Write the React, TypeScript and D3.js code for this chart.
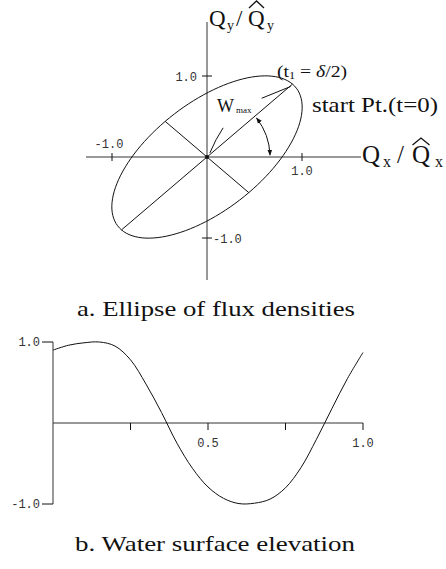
import React from 'react';
import * as d3 from 'd3';

// a. ellipse of flux densities
const majorAxisEnd = [0.9, 0.9];
const minorAxisEnd = [0.44, -0.44];
const ellipseTicks = [-1, 1];
const ellipseTickLabels = ['-1.0', '1.0'];

// b. water surface elevation over one period
const timeValues = [0, 0.05, 0.1, 0.15, 0.2, 0.25, 0.3, 0.35, 0.4, 0.45, 0.5,
  0.55, 0.6, 0.65, 0.7, 0.75, 0.8, 0.85, 0.9, 0.95, 1.0];
const elevationValues = [0.9, 0.96, 0.99, 1.0, 0.95, 0.78, 0.48, 0.13, -0.25, -0.56, -0.79,
  -0.93, -0.995, -0.99, -0.94, -0.8, -0.55, -0.2, 0.18, 0.55, 0.87];
const timeTicks = [0.25, 0.5, 0.75, 1.0];
const timeTickLabels = ['', '0.5', '', '1.0'];
const elevationTicks = [-1, 1];
const elevationTickLabels = ['-1.0', '1.0'];

const serif = '"Liberation Serif", "DejaVu Serif", serif';
const mono = '"Liberation Mono", "DejaVu Sans Mono", monospace';

export default function App() {
  const W = 446;
  const H = 569;

  // top panel scales
  const x = d3.scaleLinear().domain([-1, 1]).range([112, 302]);
  const y = d3.scaleLinear().domain([-1, 1]).range([238, 76]);
  const ox = x(0);
  const oy = y(0);

  const ellipsePts: [number, number][] = d3.range(0, 361, 3).map((deg) => {
    const s = (deg * Math.PI) / 180;
    return [
      majorAxisEnd[0] * Math.cos(s) + minorAxisEnd[0] * Math.sin(s),
      majorAxisEnd[1] * Math.cos(s) + minorAxisEnd[1] * Math.sin(s),
    ];
  });
  const line = d3.line<[number, number]>().x((d) => x(d[0])).y((d) => y(d[1]));
  const ellipsePath = line.curve(d3.curveLinearClosed)(ellipsePts) || '';

  // angle arc from major axis down to x axis
  const majorAngle = Math.atan2(oy - y(majorAxisEnd[1]), x(majorAxisEnd[0]) - ox);
  const r = 63;
  const a0 = majorAngle - 0.04;
  const a1 = 0.03;
  const arcPath = `M${ox + r * Math.cos(a0)},${oy - r * Math.sin(a0)} A${r},${r} 0 0 1 ${ox + r * Math.cos(a1)},${oy - r * Math.sin(a1)}`;

  // bottom panel scales
  const xb = d3.scaleLinear().domain([0, 1]).range([53, 363]);
  const yb = d3.scaleLinear().domain([-1, 1]).range([504, 342]);
  const curve = d3.line<number>()
    .x((_, i) => xb(timeValues[i]))
    .y((d) => yb(d))
    .curve(d3.curveCatmullRom)(elevationValues) || '';

  const stroke = '#111';
  const hat = (cx: number, top: number, w: number) =>
    `M${cx - w / 2},${top + 7} L${cx},${top} L${cx + w / 2},${top + 7}`;

  return (
    <svg width={W} height={H} style={{ position: 'absolute', left: 0, top: 0, background: '#fff' }}>
      <defs>
        <marker id="ah" viewBox="0 0 10 10" refX="9" refY="5" markerWidth="6" markerHeight="6" orient="auto-start-reverse">
          <path d="M0,1 L10,5 L0,9 z" fill={stroke} />
        </marker>
      </defs>

      {/* ---- a. ellipse ---- */}
      <g fill="none" stroke={stroke} strokeWidth={1}>
        <line x1={86} x2={361} y1={oy} y2={oy} stroke="#333" />
        <line x1={ox} x2={ox} y1={22} y2={280} stroke="#333" />
        {ellipseTicks.map((t) => (
          <line key={'xt' + t} x1={x(t)} x2={x(t)} y1={oy - 4} y2={oy + 4} />
        ))}
        {ellipseTicks.map((t) => (
          <line key={'yt' + t} x1={ox - 5} x2={ox + 5} y1={y(t)} y2={y(t)} />
        ))}
        <path d={ellipsePath} />
        <line x1={x(-majorAxisEnd[0])} y1={y(-majorAxisEnd[1])} x2={x(majorAxisEnd[0])} y2={y(majorAxisEnd[1])} />
        <line x1={x(-minorAxisEnd[0])} y1={y(-minorAxisEnd[1])} x2={x(minorAxisEnd[0])} y2={y(minorAxisEnd[1])} />
        <path d={arcPath} markerStart="url(#ah)" markerEnd="url(#ah)" />
        <path d={`M${x(0.17)},${y(0.36)} Q${x(0.09)},${y(0.22)} ${x(0.03)},${y(0.05)}`} />
        <line x1={x(0.575)} y1={y(0.725)} x2={x(0.88)} y2={y(0.87)} />
      </g>
      <circle cx={ox} cy={oy} r={2} fill={stroke} />

      <g fontFamily={mono} fontSize={12} fill="#333">
        <text x={x(1)} y={oy + 18} textAnchor="middle">{ellipseTickLabels[1]}</text>
        <text x={x(-1) - 3} y={oy - 9} textAnchor="middle">{ellipseTickLabels[0]}</text>
        <text x={ox - 10} y={y(1) + 5} textAnchor="end">{ellipseTickLabels[1]}</text>
        <text x={ox + 6} y={y(-1) + 5}>{ellipseTickLabels[0]}</text>
      </g>

      <g fontFamily={serif} fill={stroke}>
        {/* Qy / Q^y */}
        <text x={209} y={26} fontSize={23}>Q</text>
        <text x={227} y={30} fontSize={14}>y</text>
        <text x={236} y={26} fontSize={23}>/</text>
        <text x={248} y={26} fontSize={23}>Q</text>
        <text x={267} y={30} fontSize={14}>y</text>
        <path d={hat(256.5, 1, 15)} fill="none" stroke={stroke} strokeWidth={1.3} />
        {/* Qx / Q^x */}
        <text x={362} y={163} fontSize={25}>Q</text>
        <text x={383} y={167} fontSize={16}>x</text>
        <text x={397} y={163} fontSize={25}>/</text>
        <text x={412} y={163} fontSize={25}>Q</text>
        <text x={435} y={167} fontSize={16}>x</text>
        <path d={hat(421, 138, 17)} fill="none" stroke={stroke} strokeWidth={1.3} />

        <text x={277} y={77} fontSize={16} textLength={70} lengthAdjust="spacingAndGlyphs">
          (t<tspan fontSize={10} dy={2}>1</tspan><tspan dy={-2}> = </tspan><tspan fontStyle="italic">δ</tspan>/2)
        </text>
        <text x={217} y={112} fontSize={18}>
          W<tspan fontSize={9} dy={1} dx={2}>max</tspan>
        </text>
        <text x={312} y={112} fontSize={21} textLength={126} lengthAdjust="spacingAndGlyphs">start Pt.(t=0)</text>

        <text x={77} y={316} fontSize={21} textLength={278} lengthAdjust="spacingAndGlyphs">a. Ellipse of flux densities</text>
        <text x={75} y={551} fontSize={21} textLength={280} lengthAdjust="spacingAndGlyphs">b. Water surface elevation</text>
      </g>

      {/* ---- b. water surface elevation ---- */}
      <g fill="none" stroke={stroke} strokeWidth={1}>
        <line x1={xb(0)} x2={xb(0)} y1={yb(1)} y2={yb(-1)} stroke="#333" />
        <line x1={xb(0)} x2={xb(1)} y1={yb(0)} y2={yb(0)} stroke="#333" />
        {elevationTicks.map((t) => (
          <line key={'eb' + t} x1={xb(0) - 11} x2={xb(0)} y1={yb(t)} y2={yb(t)} />
        ))}
        {timeTicks.map((t) => (
          <line key={'tb' + t} x1={xb(t)} x2={xb(t)} y1={yb(0)} y2={yb(0) + 7} />
        ))}
        <path d={curve} />
      </g>
      <g fontFamily={mono} fontSize={12} fill="#333">
        {timeTicks.map((t, i) => (
          <text key={'tl' + t} x={xb(t)} y={yb(0) + 24} textAnchor="middle">{timeTickLabels[i]}</text>
        ))}
        {elevationTicks.map((t, i) => (
          <text key={'el' + t} x={xb(0) - 13} y={yb(t) + 4} textAnchor="end">{elevationTickLabels[i]}</text>
        ))}
      </g>
    </svg>
  );
}
